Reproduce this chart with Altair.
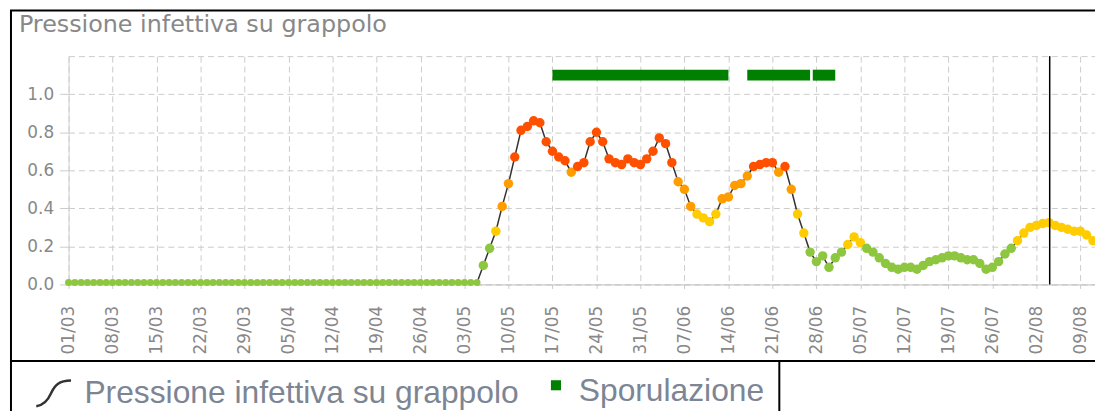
import altair as alt
import pandas as pd

# ---------------- data ----------------
primo_giorno = "2025-03-01"

pressione_marzo = [0.01, 0.01, 0.01, 0.01, 0.01, 0.01, 0.01, 0.01, 0.01, 0.01,
                   0.01, 0.01, 0.01, 0.01, 0.01, 0.01, 0.01, 0.01, 0.01, 0.01,
                   0.01, 0.01, 0.01, 0.01, 0.01, 0.01, 0.01, 0.01, 0.01, 0.01, 0.01]
pressione_aprile = [0.01, 0.01, 0.01, 0.01, 0.01, 0.01, 0.01, 0.01, 0.01, 0.01,
                    0.01, 0.01, 0.01, 0.01, 0.01, 0.01, 0.01, 0.01, 0.01, 0.01,
                    0.01, 0.01, 0.01, 0.01, 0.01, 0.01, 0.01, 0.01, 0.01, 0.01]
pressione_maggio = [0.01, 0.01, 0.01, 0.01, 0.01, 0.10, 0.19, 0.28, 0.41, 0.53,
                    0.67, 0.81, 0.83, 0.86, 0.85, 0.75, 0.70, 0.67, 0.65, 0.59,
                    0.62, 0.64, 0.75, 0.80, 0.75, 0.66, 0.64, 0.63, 0.66, 0.64, 0.63]
pressione_giugno = [0.66, 0.70, 0.77, 0.74, 0.64, 0.54, 0.50, 0.41, 0.37, 0.35,
                    0.33, 0.37, 0.45, 0.46, 0.52, 0.53, 0.57, 0.62, 0.63, 0.64,
                    0.64, 0.59, 0.62, 0.50, 0.37, 0.27, 0.17, 0.12, 0.15, 0.09]
pressione_luglio = [0.14, 0.17, 0.21, 0.25, 0.22, 0.19, 0.17, 0.14, 0.11, 0.09,
                    0.08, 0.09, 0.09, 0.08, 0.10, 0.12, 0.13, 0.14, 0.15, 0.15,
                    0.14, 0.13, 0.13, 0.11, 0.08, 0.09, 0.12, 0.16, 0.19, 0.23, 0.27]
pressione_agosto = [0.30, 0.31, 0.32, 0.325, 0.31, 0.30, 0.29, 0.28, 0.28, 0.26, 0.23]

spor_inizio = ["2025-05-17", "2025-06-17", "2025-06-27T10:00:00Z"]
spor_fine = ["2025-06-14", "2025-06-27", "2025-07-01"]
spor_livello = [1.1, 1.1, 1.1]

oggi = ["2025-08-04T03:00:00Z"]

tick_date = ["2025-03-01", "2025-03-08", "2025-03-15", "2025-03-22", "2025-03-29",
             "2025-04-05", "2025-04-12", "2025-04-19", "2025-04-26", "2025-05-03",
             "2025-05-10", "2025-05-17", "2025-05-24", "2025-05-31", "2025-06-07",
             "2025-06-14", "2025-06-21", "2025-06-28", "2025-07-05", "2025-07-12",
             "2025-07-19", "2025-07-26", "2025-08-02", "2025-08-09"]
x_dominio = ["2025-03-01", "2025-08-11T08:00:00"]
y_tick = [0.0, 0.2, 0.4, 0.6, 0.8, 1.0, 1.2]

soglie = [0.2, 0.4, 0.6]
colori_soglie = ["#8dc63f", "#ffcc00", "#ff9c00", "#ff5000"]

nome_serie = "Pressione infettiva su grappolo"
nome_spor = "Sporulazione"
titolo = "Pressione infettiva su grappolo"

# ---------------- tables ----------------
valori = (pressione_marzo + pressione_aprile + pressione_maggio +
          pressione_giugno + pressione_luglio + pressione_agosto)
date = pd.date_range(primo_giorno, periods=len(valori), freq="D").strftime("%Y-%m-%d")
df = pd.DataFrame({"data": list(date), "valore": valori, "serie": [nome_serie] * len(valori)})

df_spor = pd.DataFrame({"inizio": spor_inizio, "fine": spor_fine,
                        "livello": spor_livello, "serie": [nome_spor] * len(spor_inizio)})
df_oggi = pd.DataFrame({"giorno": oggi})


def ms(s):
    return int(pd.Timestamp(s, tz="UTC").timestamp() * 1000)


tick_ms = [ms(d) for d in tick_date]
dom_ms = [ms(d) for d in x_dominio]

x_scale = alt.Scale(type="utc", domain=dom_ms)
x_axis = alt.Axis(values=tick_ms, format="%d/%m", labelAngle=-90, labelOverlap=False,
                  labelFlush=False, tickSize=4, labelPadding=17, grid=True,
                  domainColor="#bbbbbb", title=None)
y_scale = alt.Scale(domain=[0, 1.2], nice=False)
y_axis = alt.Axis(values=y_tick, labelExpr="datum.value > 1.1 ? '' : format(datum.value, '.1f')",
                  labelOverlap=False, labelFlush=False, tickCount=7,
                  tickSize=9, labelPadding=6, grid=True, domain=True, domainColor="#d0d0d0",
                  title=None,
                  tickOpacity={"condition": {"test": "datum.value > 1.1", "value": 0}, "value": 1})


def X(campo):
    return alt.X(campo, title=None, scale=x_scale, axis=x_axis)


def Y(campo):
    return alt.Y(campo, title=None, scale=y_scale, axis=y_axis)


# decorative frames (chart box and legend box)
cornice = alt.Chart(pd.DataFrame({"k": [0]})).mark_rect(
    filled=False, stroke="black", strokeWidth=2
).encode(x=alt.value(-58), x2=alt.value(1100), y=alt.value(-46), y2=alt.value(307))
cornice_legenda = alt.Chart(pd.DataFrame({"k": [0]})).mark_rect(
    filled=False, stroke="black", strokeWidth=2
).encode(x=alt.value(-58), x2=alt.value(716), y=alt.value(307), y2=alt.value(420))

curva = "M-1,0.78 C-0.6,0.74 -0.35,0.49 -0.15,0.04 C0.05,-0.41 0.3,-0.7 1,-0.7"
quadrato = "M0.08,-0.63 L0.66,-0.63 L0.66,-0.05 L0.08,-0.05 Z"

legenda_comune = dict(title=None, orient="none", direction="horizontal",
                      labelFont="Liberation Sans", labelFontSize=32, labelColor="#7d8594",
                      labelLimit=1000, labelOffset=12, symbolSize=1225, padding=0)

linea = alt.Chart(df).mark_line(strokeWidth=1.5).encode(
    x=X("data:T"), y=Y("valore:Q"),
    color=alt.Color("serie:N", scale=alt.Scale(domain=[nome_serie], range=["#333333"]),
                    legend=alt.Legend(legendX=-34, legendY=320, symbolType=curva,
                                      symbolFillColor="transparent", symbolStrokeColor="#333333",
                                      symbolStrokeWidth=2.5, **legenda_comune)),
)

punti = alt.Chart(df).mark_circle(opacity=1).encode(
    x=X("data:T"),
    y=Y("valore:Q"),
    color=alt.Color("valore:Q", scale=alt.Scale(type="threshold", domain=soglie, range=colori_soglie),
                    legend=None),
    size=alt.condition("datum.valore < 0.05", alt.value(49), alt.value(90)),
)

spor = alt.Chart(df_spor).mark_rule(strokeWidth=11, strokeCap="butt").encode(
    x=X("inizio:T"),
    x2="fine:T",
    y=Y("livello:Q"),
    color=alt.Color("serie:N", scale=alt.Scale(domain=[nome_spor], range=["#008000"]),
                    legend=alt.Legend(legendX=467, legendY=320, symbolType=quadrato,
                                      symbolFillColor="#008000", symbolStrokeColor="#008000",
                                      symbolStrokeWidth=0, **legenda_comune)),
)

linea_oggi = alt.Chart(df_oggi).mark_rule(color="black", strokeWidth=1.5).encode(
    x=X("giorno:T")
)

chart = alt.layer(cornice, cornice_legenda, linea, punti, spor, linea_oggi).resolve_scale(
    color="independent"
).properties(
    width=1034,
    height=230,
    title=alt.TitleParams(titolo, anchor="start", frame="group", dx=-50, dy=70, offset=23,
                          baseline="alphabetic", font="DejaVu Sans", fontSize=24,
                          fontWeight="normal", color="#888888"),
    autosize=alt.AutoSizeParams(type="none"),
    padding={"left": 61, "top": 47, "right": 0, "bottom": 126},
).configure_view(strokeWidth=0).configure_axis(
    labelFont="DejaVu Sans", labelFontSize=17, labelColor="#888888",
    gridColor="#cccccc", gridDash=[6, 4], gridWidth=1, tickColor="#cccccc",
)

chart.save("out.html", embed_options={"renderer": "svg", "actions": False})
